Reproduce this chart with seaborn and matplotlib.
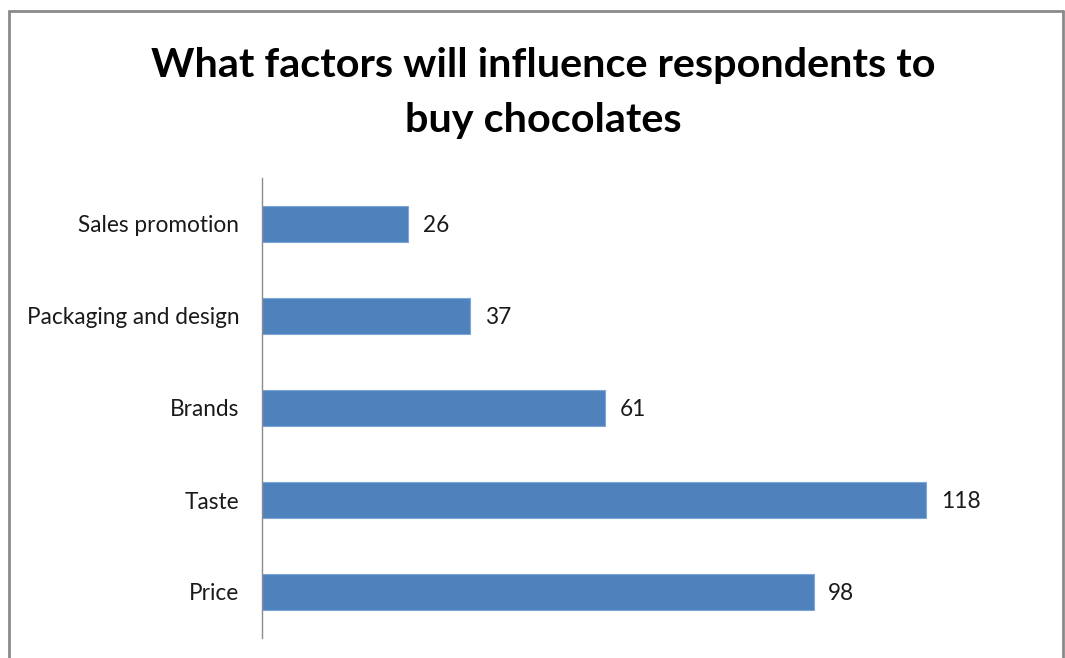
import matplotlib
matplotlib.use("Agg")
import matplotlib.pyplot as plt
import seaborn as sns
import pandas as pd
from matplotlib.lines import Line2D

factors = ["Sales promotion", "Packaging and design", "Brands", "Taste", "Price"]
counts = [26, 37, 61, 118, 98]

df = pd.DataFrame({"factor": factors, "count": counts})

sns.set_theme(style="white")
plt.rcParams["font.family"] = ["Lato", "DejaVu Sans"]

W, H = 1065, 658
fig = plt.figure(figsize=(W / 100, H / 100), dpi=100)
ax = fig.add_axes([262 / W, 1 - 638 / H, (1050 - 262) / W, (638 - 178) / H])

sns.barplot(data=df, x="count", y="factor", color="#4F81BD", saturation=1,
            width=0.39, ax=ax, edgecolor="#7FA6D8", linewidth=0.8)

ax.set_xlim(0, 140)
ax.set_ylim(4.5, -0.5)
ax.set_xlabel("")
ax.set_ylabel("")
ax.set_xticks([])
ax.tick_params(axis="y", length=0, pad=16.5, labelsize=16.3, labelcolor="#1a1a1a")
for side in ["top", "right", "bottom"]:
    ax.spines[side].set_visible(False)
ax.spines["left"].set_color("#8c8c8c")
ax.spines["left"].set_linewidth(1.0)

for i, v in enumerate(counts):
    ax.text(v + 2.6, i + 0.02, str(v), va="center", ha="left", fontsize=16.3, color="#1a1a1a")

fig.text(543 / W, 1 - 93 / H, "What factors will influence respondents to\nbuy chocolates",
         ha="center", va="center", fontsize=29.8, fontweight="bold", linespacing=1.57,
         color="black")

# chart frame
bc = "#8a8a8a"
x0, x1, y1 = 9 / W, 1063 / W, 1 - 11 / H
fig.add_artist(Line2D([x0, x0], [0, y1], transform=fig.transFigure, color=bc, lw=2))
fig.add_artist(Line2D([x0, x1], [y1, y1], transform=fig.transFigure, color=bc, lw=2))
fig.add_artist(Line2D([x1, x1], [0, y1], transform=fig.transFigure, color=bc, lw=2))

fig.savefig("out.png", dpi=100, facecolor="white")
